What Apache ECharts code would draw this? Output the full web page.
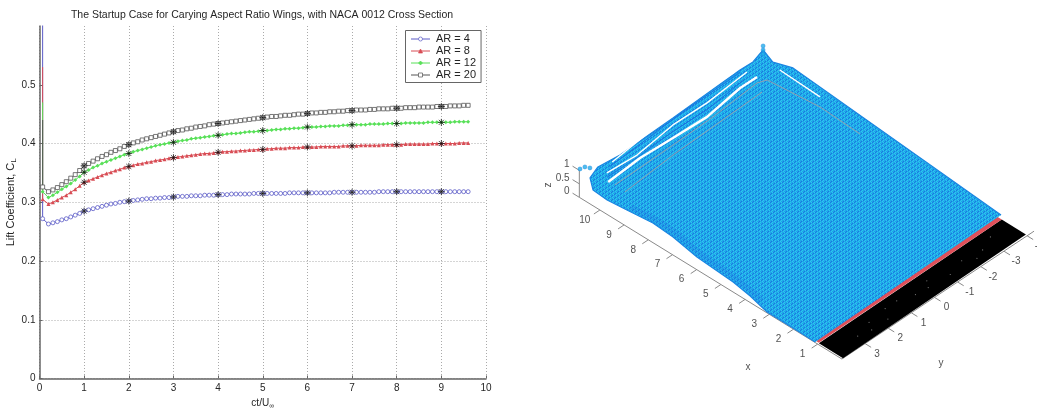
<!DOCTYPE html>
<html><head><meta charset="utf-8">
<style>html,body{margin:0;padding:0;background:#fff}#c{width:1037px;height:408px}</style>
<script src="https://cdn.jsdelivr.net/npm/echarts@6/dist/echarts.min.js"></script>
</head><body><div id="c"></div>
<script>
// ---------- left panel: lift history ----------
const stepT = [0.1,0.2,0.3,0.4,0.5,0.6,0.7,0.8,0.9,1,1.1,1.2,1.3,1.4,1.5,1.6,1.7,1.8,1.9,2,2.1,2.2,2.3,2.4,2.5,2.6,2.7,2.8,2.9,3,3.1,3.2,3.3,3.4,3.5,3.6,3.7,3.8,3.9,4,4.1,4.2,4.3,4.4,4.5,4.6,4.7,4.8,4.9,5,5.1,5.2,5.3,5.4,5.5,5.6,5.7,5.8,5.9,6,6.1,6.2,6.3,6.4,6.5,6.6,6.7,6.8,6.9,7,7.1,7.2,7.3,7.4,7.5,7.6,7.7,7.8,7.9,8,8.1,8.2,8.3,8.4,8.5,8.6,8.7,8.8,8.9,9,9.1,9.2,9.3,9.4,9.5,9.6];
const ar4 = [.272,.263,.265,.267,.270,.272,.275,.278,.281,.285,.287,.289,.291,.293,.295,.297,.298,.300,.301,.302,.303,.304,.305,.306,.306,.307,.307,.308,.308,.309,.310,.310,.310,.311,.311,.311,.312,.312,.312,.313,.313,.313,.314,.314,.314,.314,.314,.315,.315,.315,.315,.315,.315,.315,.315,.316,.316,.316,.316,.316,.316,.316,.316,.316,.316,.317,.317,.317,.317,.317,.317,.317,.317,.317,.317,.318,.318,.318,.318,.318,.318,.318,.318,.318,.318,.318,.318,.318,.318,.318,.318,.318,.318,.318,.318,.318];
const ar8 = [.305,.297,.300,.304,.308,.312,.317,.322,.328,.334,.337,.340,.343,.346,.349,.351,.354,.356,.359,.361,.363,.365,.366,.368,.369,.371,.372,.373,.375,.376,.377,.378,.379,.380,.381,.382,.383,.383,.384,.385,.386,.386,.387,.387,.388,.388,.389,.389,.390,.390,.391,.391,.392,.392,.392,.393,.393,.393,.394,.394,.394,.394,.395,.395,.395,.395,.395,.396,.396,.396,.396,.397,.397,.397,.397,.397,.398,.398,.398,.398,.398,.399,.399,.399,.399,.399,.399,.400,.400,.400,.400,.400,.400,.401,.401,.401];
const ar12 = [.318,.308,.312,.317,.322,.327,.332,.338,.344,.351,.355,.359,.362,.366,.369,.372,.375,.378,.381,.383,.386,.388,.390,.392,.394,.396,.398,.399,.401,.402,.404,.405,.406,.408,.409,.410,.411,.412,.413,.414,.415,.416,.417,.417,.418,.419,.420,.420,.421,.422,.422,.423,.424,.424,.425,.425,.426,.426,.427,.428,.428,.428,.429,.429,.430,.430,.430,.431,.431,.432,.432,.432,.432,.433,.433,.433,.433,.434,.434,.434,.434,.435,.435,.435,.435,.435,.436,.436,.436,.436,.436,.436,.437,.437,.437,.437];
const ar20 = [.326,.318,.321,.325,.330,.335,.341,.347,.354,.362,.366,.370,.374,.378,.381,.385,.388,.391,.395,.398,.401,.403,.406,.408,.410,.412,.414,.416,.418,.420,.422,.423,.425,.426,.428,.429,.430,.432,.433,.434,.435,.436,.437,.438,.439,.440,.441,.442,.443,.444,.445,.446,.446,.447,.448,.448,.449,.450,.450,.451,.452,.452,.453,.453,.454,.454,.455,.455,.456,.456,.457,.457,.457,.458,.458,.459,.459,.459,.460,.460,.460,.461,.461,.461,.462,.462,.462,.462,.463,.463,.463,.464,.464,.464,.465,.465];
const startSpike = [0.62, 0.53, 0.47, 0.44]; // value of the first sample of each run, at ct/U = 0.07
const runNames = ['AR = 4','AR = 8','AR = 12','AR = 20'];
const xTicks = [0,1,2,3,4,5,6,7,8,9,10];
const yTicks = [0,0.1,0.2,0.3,0.4,0.5];

// ---------- right panel: wake sheet, read as [x, y, z] ----------
const sheetOutline = [[1.12,3.98,0],[2.05,3.97,0],[3.12,3.97,0],[4.0,3.78,0],[4.82,3.66,0],[6.40,3.57,0],[7.56,3.39,0],[8.44,3.34,0],[9.42,3.44,0],[10.17,3.51,0],[10.79,3.47,0],[10.81,3.58,.5],[10.56,3.50,1],[10.47,2.64,1],[10.53,.29,1],[10.64,-2.72,1],[10.62,-3.26,1],[10.44,-3.51,1.4],[10.19,-3.67,1],[9.57,-3.89,1],[1.23,-4.16,0]];
const sheetEdgeShade = [[3.6,3.7,0],[4.82,3.5,0],[6.40,3.40,0],[7.56,3.22,0],[8.44,3.18,0],[9.42,3.28,0]];
const sheetStreaksWhite = [
  [[10.29,3.34,.5],[10.38,1.87,.5],[10.32,.51,.5],[10.27,-.91,.5],[10.49,-2.57,.5],[10.48,-3.29,.5]],
];
const sheetStreaksThin = [
  [[10.61,3.06,.5],[10.54,1.83,.5],[10.74,.07,.5],[10.72,-1.38,.5],[10.86,-3.25,.5]],
  [[10.85,2.58,.5],[11.13,-.33,.5],[11.12,-3.0,.5]],
  [[10.22,-4.0,.5],[8.49,-3.93,.5]],
];
const sheetStreaksBlue = [
  [[10.47,3.2,.5],[10.46,1.85,.5],[10.53,.3,.5],[10.5,-1.15,.5],[10.67,-2.9,.5]],
  [[10.75,2.8,.5],[10.85,1.0,.5],[10.95,-.6,.5],[11.0,-3.1,.5]],
];
const sheetStreaksGray = [
  [[10.05,3.30,.5],[10.09,.75,.5],[10.14,-1.03,.5],[10.29,-3.09,.5],[10.17,-3.40,.5],[8.16,-3.59,.5],[6.43,-3.51,.5]],
  [[9.61,3.33,.5],[9.77,1.08,.5],[9.83,-1.01,.5],[9.89,-2.89,.5]],
];
const tipBeads = [[10.88,3.94,1],[10.84,3.77,1],[10.70,3.70,1],[10.44,-3.51,1.25],[10.44,-3.51,1.4],[10.44,-3.51,1.55]];
const wingBlack = [[0,3.95,0],[0,-3.95,.08],[1,-3.95,.08],[1,3.95,0]];
const wingRed = [[1,3.95,.02],[1,-3.95,.08],[1.2,-3.95,.08],[1.2,3.95,.02]];
const wingSpecks = [[.4,2.9],[.6,2.2],[.3,1.7],[.7,.9],[.5,.3],[.7,-.4],[.4,-1.1],[.6,-1.8],[.5,-2.6],[.75,-3.2],[.3,2.4],[.7,1.4],[.45,-.2],[.35,-2.2]];
const xLabels3d = [1,2,3,4,5,6,7,8,9,10];
const yLabels3d = [3,2,1,0,-1,-2,-3,-4];
const zLabels3d = [0,0.5,1];

// view projection of the 3-D axes
const view = (x,y,z)=>[934.5-24.2*x-23.15*y, 297.4-14.9*x+15.4*y-27*z];
const viewAll = pts => pts.map(p=>view(p[0],p[1],p[2]));

const font = '"Liberation Sans", Arial, sans-serif';
const ink = '#262626';

// sheet surface texture
const tile = document.createElement('canvas'); tile.width=6; tile.height=4;
const g = tile.getContext('2d');
g.fillStyle='#1fa6e8'; g.fillRect(0,0,6,4);
g.fillStyle='#1a78e0'; [[0,3],[2,2],[3,1],[5,0]].forEach(p=>g.fillRect(p[0],p[1],1,1));
g.fillStyle='#2cc6f0'; [[0,1],[1,0],[3,3],[4,2],[1,2],[4,0]].forEach(p=>g.fillRect(p[0],p[1],1,1));

function polygonSeries(pts, fill, extra){
  return Object.assign({
    type:'custom', xAxisIndex:1, yAxisIndex:1, silent:true, clip:false,
    data: viewAll(pts), encode:{x:0,y:1},
    renderItem(params, api){
      if(params.dataIndex!==0) return;
      const d = viewAll(pts).map(p=>api.coord(p));
      return {type:'polygon', shape:{points:d}, style:{fill}};
    }
  }, extra||{});
}
function line3d(pts, color, width, extra){
  return Object.assign({type:'line', xAxisIndex:1, yAxisIndex:1, data:viewAll(pts), showSymbol:false, symbol:'none', silent:true, z:4, clip:false,
    lineStyle:{color, width}}, extra||{});
}
function labels3d(items, align, extra){
  return Object.assign({type:'scatter', xAxisIndex:1, yAxisIndex:1, symbolSize:0, silent:true, clip:false, z:5,
    data: items.map(it=>({value:view(it[1],it[2],it[3]), label:{formatter:String(it[0])}})),
    label:{show:true, position:'inside', color:ink, fontSize:10, fontFamily:font, align:align||'center', verticalAlign:'middle'}}, extra||{});
}

const runs=[
 {v:ar4,c:'#5b5bc6',sym:'circle',size:4,hollow:true},
 {v:ar8,c:'#d84c54',sym:'triangle',size:4,hollow:false},
 {v:ar12,c:'#58e058',sym:'diamond',size:4,hollow:false},
 {v:ar20,c:'#555555',sym:'rect',size:4,hollow:true},
];
const star='path://M0 -5L0 5M-5 0L5 0M-3.6 -3.6L3.6 3.6M-3.6 3.6L3.6 -3.6';
const series=[];
runs.forEach((r,i)=>{
  series.push({name:runNames[i],type:'line',xAxisIndex:0,yAxisIndex:0,
    data:[[0.07,startSpike[i]]].concat(stepT.map((t,k)=>[k===0?0.07:t,r.v[k]])),
    symbol:r.sym,symbolSize:(v,p)=>p.dataIndex===0?0:r.size,showSymbol:true,showAllSymbol:true,
    lineStyle:{color:r.c,width:1},
    itemStyle:{color:r.hollow?'#fff':r.c,borderColor:r.c,borderWidth:r.hollow?0.8:0},z:3,animation:false});
  series.push({type:'scatter',xAxisIndex:0,yAxisIndex:0,silent:true,z:4,
    data:xTicks.filter(t=>t>0&&t<10).map(t=>[t,r.v[stepT.indexOf(t)]]),
    symbol:star,symbolSize:7,itemStyle:{color:'none',borderColor:'#111',borderWidth:0.9}});
});
// right panel marks
series.push(polygonSeries(wingBlack,'#000',{z:2}));
series.push({type:'scatter',xAxisIndex:1,yAxisIndex:1,silent:true,z:3,clip:false,data:wingSpecks.map(p=>view(p[0],p[1],0)),symbolSize:1.2,itemStyle:{color:'#999'}});
series.push(polygonSeries(wingRed,'#e0505a',{z:3}));
series.push(polygonSeries(sheetOutline,{image:tile,repeat:'repeat'},{z:3}));
series.push(line3d(sheetEdgeShade,'#1a5fe0',6,{lineStyle:{color:'#1a5fe0',width:6,opacity:.18},smooth:true}));
series.push(line3d(sheetOutline,'#1a86e2',1.2));
sheetStreaksGray.forEach(s=>series.push(line3d(s,'#8f9fb0',1)));
sheetStreaksThin.forEach(s=>series.push(line3d(s,'#ffffff',1.4)));
sheetStreaksWhite.forEach(s=>series.push(line3d(s,'#ffffff',2.4)));
sheetStreaksBlue.forEach(s=>series.push(line3d(s,'#1a6fe0',1)));
series.push({type:'scatter',xAxisIndex:1,yAxisIndex:1,silent:true,z:5,clip:false,data:viewAll(tipBeads),symbolSize:4,itemStyle:{color:'#20aee8',borderColor:'#1a86e2',borderWidth:.6}});
// 3-D axes
const axisCol='#8a8a8a';
series.push(line3d([[0,4,0],[10.85,4,0],[10.85,4,1]],axisCol,1,{z:1}));
series.push(line3d([[0,4,0],[0,-4.3,0]],axisCol,1,{z:1}));
xLabels3d.forEach(v=>series.push(line3d([[v,4,0],[v,4.26,0]],axisCol,1,{z:1})));
yLabels3d.forEach(v=>series.push(line3d([[0,v,0],[-.25,v,0]],axisCol,1,{z:1})));
zLabels3d.forEach(v=>series.push(line3d([[10.85,4,v],[11.13,4,v]],axisCol,1,{z:1})));
series.push(labels3d(xLabels3d.map(v=>[v,v,4.65,0])));
series.push(labels3d(yLabels3d.map(v=>[v,-.5,v,-.1])));
series.push(labels3d(zLabels3d.map(v=>[v,11.25,4,v]),'right'));
series.push(labels3d([['x',1.76,6.22,0],['y',-2.26,2.08,0]]));
series.push(labels3d([['z',11.92,4.23,0]],'center',{label:{show:true,position:'inside',color:ink,fontSize:10,fontFamily:font,rotate:90}}));

const chart=echarts.init(document.getElementById('c'),null,{renderer:'canvas'});
chart.setOption({
  animation:false,
  backgroundColor:'#fff',
  title:{text:'The Startup Case for Carying Aspect Ratio Wings, with NACA 0012 Cross Section',left:257,top:5,textAlign:'center',
    textStyle:{fontFamily:font,fontSize:10.5,fontWeight:'normal',color:ink}},
  legend:{data:runNames,orient:'vertical',left:405.5,top:30.5,padding:[3,5,2,5],itemWidth:19,itemHeight:5,itemGap:1,
    backgroundColor:'#fff',borderColor:'#666',borderWidth:1,borderRadius:0,
    lineStyle:{width:1},itemStyle:{borderWidth:.7},
    textStyle:{fontFamily:font,fontSize:11,color:ink,lineHeight:11,padding:[0,0,0,1]}},
  grid:[{left:39.5,top:26,width:446.5,height:352.5,show:false,outerBoundsMode:'none'},
        {left:0,top:0,width:1037,height:408,show:false,outerBoundsMode:'none'}],
  xAxis:[{type:'value',gridIndex:0,min:0,max:10,interval:1,
          name:'ct/U{s|∞}',nameLocation:'middle',nameGap:17,
          nameTextStyle:{fontFamily:font,fontSize:10,color:ink,rich:{s:{fontSize:7,verticalAlign:'bottom',padding:[6,0,0,0],fontFamily:font,color:ink}}},
          axisLine:{lineStyle:{color:'#666',width:1.5}},axisTick:{inside:true,length:3,lineStyle:{color:'#666'}},
          axisLabel:{fontFamily:font,fontSize:10,color:ink,margin:5},
          splitLine:{show:true,lineStyle:{type:[1,2],color:'#aaaaaa',width:1}}},
         {type:'value',gridIndex:1,min:0,max:1037,show:false}],
  yAxis:[{type:'value',gridIndex:0,min:0,max:0.6,interval:0.1,
          name:'Lift Coefficient, C{s|L}',nameLocation:'middle',nameGap:4,
          nameTextStyle:{fontFamily:font,fontSize:11,color:ink,rich:{s:{fontSize:8,fontFamily:font,color:ink,padding:[5,0,0,0]}}},
          axisLine:{show:true,lineStyle:{color:'#666',width:1.5}},
          axisTick:{show:true,inside:true,length:3,lineStyle:{color:'#666'},customValues:yTicks},
          axisLabel:{fontFamily:font,fontSize:10,color:ink,margin:4,customValues:yTicks,formatter:v=>String(v)},
          splitLine:{show:true,showMaxLine:false,lineStyle:{type:[1,2],color:'#aaaaaa',width:1}}},
         {type:'value',gridIndex:1,min:0,max:408,inverse:true,show:false}],
  series
});
</script></body></html>
